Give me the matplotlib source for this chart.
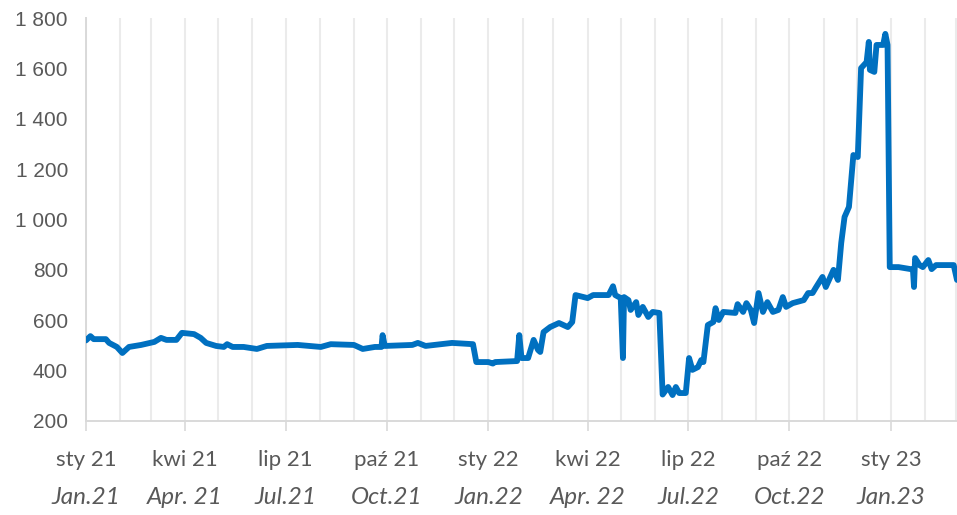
import datetime as dt
import matplotlib
matplotlib.use("Agg")
import matplotlib.pyplot as plt
import matplotlib.dates as mdates
import pandas as pd

# price series (date, value)
dates = [
    "2021-01-01", "2021-01-05", "2021-01-08", "2021-01-19", "2021-01-22", "2021-01-29",
    "2021-02-03", "2021-02-09", "2021-02-20", "2021-03-04", "2021-03-10", "2021-03-15",
    "2021-03-24", "2021-03-29", "2021-04-09", "2021-04-15", "2021-04-20", "2021-04-29",
    "2021-05-06", "2021-05-09", "2021-05-14", "2021-05-24", "2021-06-05", "2021-06-14",
    "2021-07-12", "2021-08-02", "2021-08-11", "2021-09-01", "2021-09-09", "2021-09-20",
    "2021-09-26", "2021-09-27", "2021-09-29", "2021-10-24", "2021-10-29", "2021-11-05",
    "2021-11-29", "2021-12-18", "2021-12-21", "2022-01-01", "2022-01-05", "2022-01-07",
    "2022-01-27", "2022-01-29", "2022-01-31", "2022-02-06", "2022-02-11", "2022-02-15",
    "2022-02-17", "2022-02-20", "2022-02-26", "2022-03-06", "2022-03-14", "2022-03-18",
    "2022-03-21", "2022-04-01", "2022-04-06", "2022-04-20", "2022-04-24", "2022-04-26",
    "2022-05-01", "2022-05-03", "2022-05-04", "2022-05-08", "2022-05-10", "2022-05-15",
    "2022-05-17", "2022-05-21", "2022-05-26", "2022-05-30", "2022-06-05", "2022-06-08",
    "2022-06-13", "2022-06-17", "2022-06-20", "2022-06-23", "2022-06-29", "2022-07-02",
    "2022-07-05", "2022-07-10", "2022-07-13", "2022-07-15", "2022-07-19", "2022-07-24",
    "2022-07-26", "2022-07-29", "2022-08-02", "2022-08-13", "2022-08-15", "2022-08-20",
    "2022-08-23", "2022-08-27", "2022-08-30", "2022-09-03", "2022-09-07", "2022-09-11",
    "2022-09-16", "2022-09-21", "2022-09-25", "2022-09-28", "2022-10-04", "2022-10-14",
    "2022-10-18", "2022-10-22", "2022-10-25", "2022-10-31", "2022-11-03", "2022-11-08",
    "2022-11-10", "2022-11-14", "2022-11-17", "2022-11-20", "2022-11-24", "2022-11-28",
    "2022-12-02", "2022-12-05", "2022-12-10", "2022-12-12", "2022-12-13", "2022-12-17",
    "2022-12-19", "2022-12-25", "2022-12-27", "2022-12-29", "2022-12-31", "2023-01-08",
    "2023-01-19", "2023-01-21", "2023-01-22", "2023-01-23", "2023-01-27", "2023-01-30",
    "2023-02-04", "2023-02-07", "2023-02-11", "2023-02-27", "2023-03-02",
]
values = [
    520, 537, 525, 525, 510, 494,
    470, 494, 502, 514, 530, 522,
    522, 550, 545, 530, 510, 498,
    494, 505, 494, 494, 486, 498,
    502, 494, 505, 502, 486, 494,
    494, 541, 498, 502, 510, 498,
    510, 505, 434, 434, 428, 434,
    438, 541, 450, 450, 522, 482,
    474, 553, 573, 589, 573, 593,
    700, 688, 700, 700, 735, 700,
    688, 450, 692, 680, 641, 672,
    621, 653, 613, 633, 629, 305,
    335, 303, 335, 311, 311, 450,
    403, 414, 442, 434, 581, 593,
    648, 601, 633, 629, 664, 633,
    668, 641, 589, 708, 633, 672,
    633, 641, 692, 653, 668, 680,
    708, 708, 730, 772, 732, 780,
    800, 760, 907, 1010, 1050, 1256,
    1248, 1601, 1625, 1705, 1594, 1586,
    1693, 1693, 1737, 1693, 811, 811,
    803, 803, 732, 847, 819, 811,
    839, 803, 819, 819, 760,
]

pl_labels = ["sty 21", "kwi 21", "lip 21", "paź 21", "sty 22",
             "kwi 22", "lip 22", "paź 22", "sty 23"]
en_labels = ["Jan.21", "Apr. 21", "Jul.21", "Oct.21", "Jan.22",
             "Apr. 22", "Jul.22", "Oct.22", "Jan.23"]
quarter_ticks = pd.date_range("2021-01-01", "2023-01-01", freq="QS")

x = pd.to_datetime(dates)

fig = plt.figure(figsize=(9.57, 5.15), dpi=100)
ax = fig.add_axes([86 / 957, 1 - 421 / 515, 1 - 86 / 957, (421 - 18) / 515])

ax.plot(x, values, color="#0070C0", linewidth=4.2, solid_joinstyle="round",
        solid_capstyle="round", zorder=3)

ax.set_xlim(dt.datetime(2021, 1, 1), dt.datetime(2023, 3, 2))
ax.set_ylim(200, 1800)

# monthly gridlines, quarterly ticks
ax.xaxis.set_minor_locator(mdates.MonthLocator())
ax.set_xticks(quarter_ticks)
ax.set_xticklabels(pl_labels, fontsize=16, family="Lato", color="#595959")
ax.grid(which="minor", axis="x", color="#ebebeb", linewidth=1.5)
ax.grid(which="major", axis="x", color="#ebebeb", linewidth=1.5)
ax.tick_params(axis="x", which="major", length=7, width=1.2, color="#d9d9d9", pad=14)
ax.tick_params(axis="x", which="minor", length=0)

ax.set_yticks(range(200, 1801, 200))
ax.set_yticklabels(["{:,}".format(v).replace(",", " ") for v in range(200, 1801, 200)],
                   fontsize=15, family="Liberation Sans", color="#595959")
ax.tick_params(axis="y", length=0, pad=13)

for s in ["top", "right"]:
    ax.spines[s].set_visible(False)
for s in ["left", "bottom"]:
    ax.spines[s].set_color("#d9d9d9")
    ax.spines[s].set_linewidth(1.4)

# english labels below
for t, lab in zip(quarter_ticks, en_labels):
    ax.text(t, -0.19, lab, transform=ax.get_xaxis_transform(), ha="center", va="center",
            fontsize=17.5, family="Lato", style="italic", color="#595959")

plt.savefig("out.png", dpi=100)
